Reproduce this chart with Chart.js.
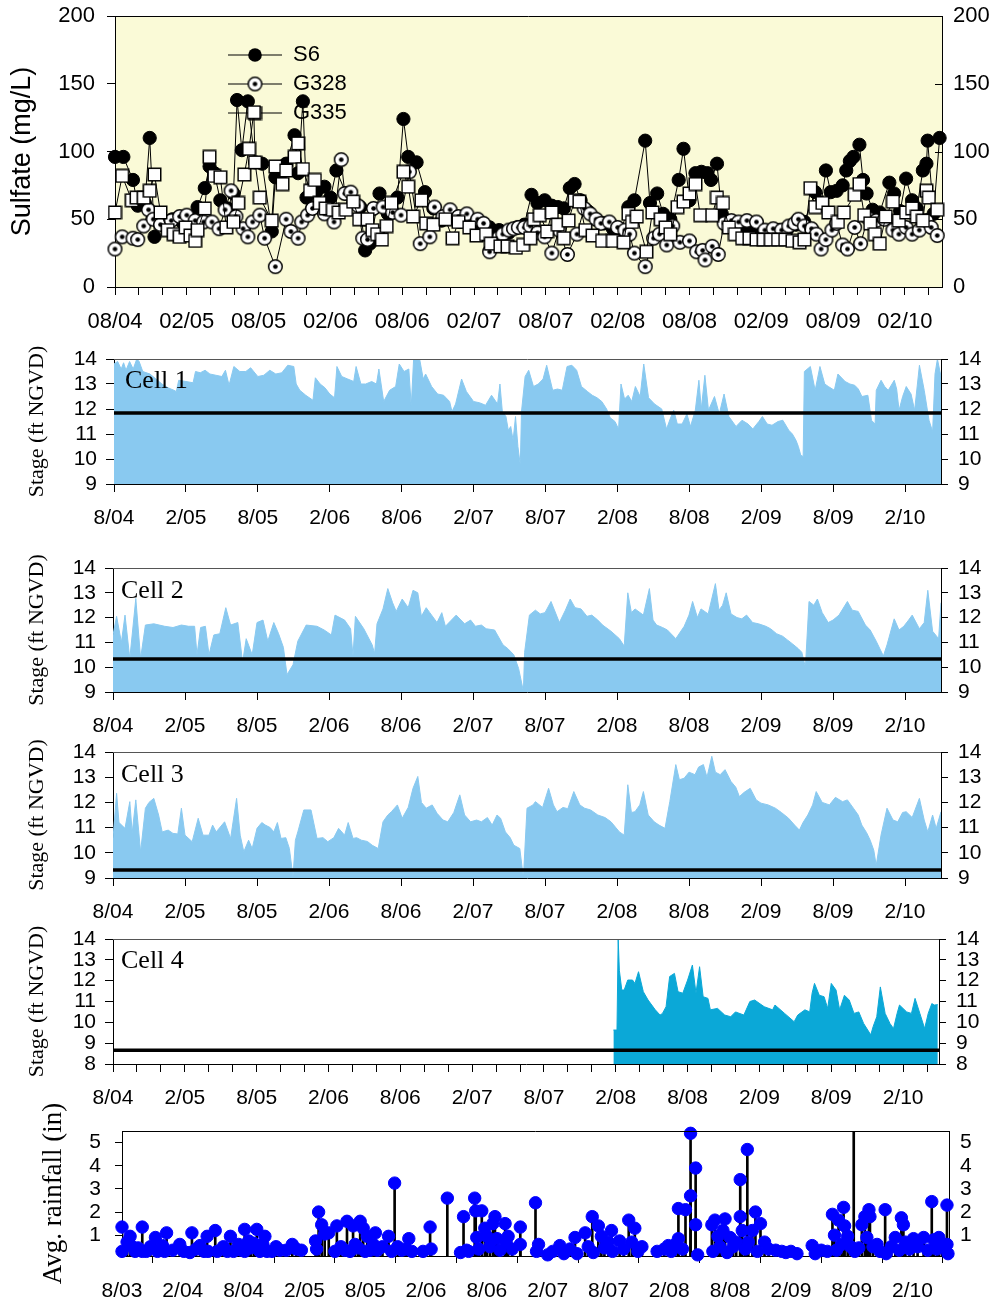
<!DOCTYPE html>
<html>
<head>
<meta charset="utf-8">
<script src="https://cdn.jsdelivr.net/npm/chart.js@4.4.1/dist/chart.umd.min.js"></script>
<style>
  body { margin: 0; background: #fff; }
  #page { position: relative; width: 995px; height: 1304px; overflow: hidden; }
  canvas { position: absolute; left: 0; }
</style>
</head>
<body>
<div id="page">
  <canvas id="sulfateChart" width="995" height="340" style="top:0px"></canvas>
  <canvas id="cell1Chart" width="995" height="200" style="top:340px"></canvas>
  <canvas id="cell2Chart" width="995" height="195" style="top:545px"></canvas>
  <canvas id="cell3Chart" width="995" height="195" style="top:730px"></canvas>
  <canvas id="cell4Chart" width="995" height="195" style="top:915px"></canvas>
  <canvas id="rainChart" width="995" height="224" style="top:1080px"></canvas>
</div>
<script>
// x values are months counted from Aug 2004 (rainfall: from Aug 2003)

// tick labels
const sulfateDates = ['08/04', '02/05', '08/05', '02/06', '08/06', '02/07', '08/07', '02/08', '08/08', '02/09', '08/09', '02/10'];
const stageDates = ['8/04', '2/05', '8/05', '2/06', '8/06', '2/07', '8/07', '2/08', '8/08', '2/09', '8/09', '2/10'];
const rainDates = ['8/03', '2/04', '8/04', '2/05', '8/05', '2/06', '8/06', '2/07', '8/07', '2/08', '8/08', '2/09', '8/09', '2/10'];
const sulfateTicks = [0, 50, 100, 150, 200];
const stageTicks = [9, 10, 11, 12, 13, 14];
const cell4Ticks = [8, 9, 10, 11, 12, 13, 14];
const rainTicks = [1, 2, 3, 4, 5];

// sulfate (mg/L)
const s6Months = [0.0, 0.7, 1.5, 1.9, 2.5, 2.9, 3.3, 4.0, 4.8, 5.6, 6.3, 6.9, 7.5, 7.9, 8.3, 8.8, 9.4, 9.9, 10.2, 10.6, 11.1, 11.7, 12.3, 13.1, 13.4, 13.9, 14.3, 15.0, 15.3, 15.7, 16.0, 16.8, 17.5, 18.0, 18.5, 19.3, 19.9, 20.5, 20.9, 21.3, 22.1, 22.8, 23.6, 24.1, 24.5, 25.2, 25.9, 26.6, 27.3, 28.0, 28.8, 29.6, 30.4, 31.3, 32.1, 32.9, 33.6, 34.2, 34.8, 35.3, 35.9, 36.5, 37.0, 37.5, 38.0, 38.4, 38.9, 39.5, 40.2, 40.9, 41.6, 42.3, 42.9, 43.4, 44.3, 44.7, 45.3, 45.8, 46.4, 47.1, 47.5, 48.0, 48.5, 49.0, 49.5, 49.8, 50.3, 50.7, 51.3, 52.0, 52.7, 53.4, 54.1, 54.8, 55.5, 56.2, 56.9, 57.6, 58.5, 59.0, 59.4, 59.8, 60.3, 60.8, 61.1, 61.4, 61.7, 62.2, 62.5, 62.8, 63.3, 63.9, 64.7, 65.1, 65.6, 66.1, 66.6, 67.0, 67.5, 67.8, 67.9, 68.4, 68.9];
const s6Sulfate = [96, 96, 79, 60, 62, 110, 37, 47, 50, 48, 52, 59, 73, 89, 84, 64, 58, 69, 138, 101, 137, 92, 91, 41, 81, 84, 91, 112, 84, 137, 66, 70, 74, 66, 86, 69, 62, 59, 27, 32, 69, 54, 66, 124, 96, 92, 70, 58, 49, 52, 48, 50, 47, 44, 42, 40, 44, 46, 68, 62, 64, 60, 59, 58, 73, 76, 64, 56, 50, 47, 43, 42, 59, 64, 108, 62, 69, 54, 50, 79, 102, 64, 84, 85, 84, 79, 91, 54, 48, 46, 45, 44, 42, 41, 42, 43, 46, 48, 70, 62, 86, 70, 71, 75, 86, 93, 96, 105, 79, 69, 57, 55, 77, 69, 56, 80, 64, 58, 86, 91, 108, 54, 110];
const g328Months = [0.0, 0.6, 1.5, 1.9, 2.4, 2.8, 3.2, 3.8, 4.7, 5.4, 6.0, 6.7, 7.4, 8.1, 8.7, 9.2, 9.7, 10.1, 10.7, 11.1, 11.5, 12.1, 12.5, 13.4, 14.3, 14.7, 15.3, 15.6, 16.1, 16.5, 17.5, 18.3, 18.9, 19.2, 19.7, 20.3, 20.7, 21.1, 21.6, 22.4, 23.2, 23.9, 24.6, 25.5, 26.3, 26.7, 27.4, 28.0, 28.7, 29.4, 30.3, 30.8, 31.3, 32.0, 32.4, 32.9, 33.3, 33.7, 34.2, 34.7, 35.3, 35.9, 36.5, 37.1, 37.8, 38.6, 39.2, 39.7, 40.2, 40.6, 41.3, 42.0, 42.6, 43.0, 43.4, 44.3, 45.0, 45.5, 46.1, 46.6, 47.2, 48.0, 48.6, 49.1, 49.3, 49.9, 50.4, 50.9, 51.5, 52.1, 52.8, 53.6, 54.3, 55.0, 55.7, 56.3, 56.8, 57.1, 57.6, 58.2, 58.6, 59.0, 59.4, 59.9, 60.3, 60.8, 61.2, 61.8, 62.3, 62.9, 63.6, 64.3, 65.0, 65.5, 66.1, 66.6, 67.2, 67.8, 68.2, 68.7];
const g328Sulfate = [28, 37, 36, 35, 45, 57, 50, 46, 49, 52, 53, 49, 48, 48, 43, 57, 71, 52, 43, 37, 48, 53, 36, 15, 50, 41, 36, 48, 53, 58, 54, 48, 94, 69, 70, 60, 36, 35, 58, 59, 55, 53, 85, 32, 37, 59, 52, 57, 52, 54, 50, 47, 26, 36, 39, 42, 43, 44, 44, 45, 40, 37, 25, 42, 24, 39, 58, 54, 50, 47, 48, 44, 42, 39, 25, 15, 36, 39, 31, 45, 33, 34, 26, 27, 20, 30, 24, 47, 49, 48, 49, 48, 42, 43, 42, 45, 47, 50, 45, 43, 39, 28, 35, 42, 47, 31, 28, 44, 32, 51, 49, 50, 42, 39, 44, 39, 42, 49, 44, 38];
const g335Months = [0.0, 0.6, 1.4, 1.8, 2.4, 2.9, 3.3, 3.8, 4.4, 4.9, 5.4, 5.9, 6.3, 6.7, 6.9, 7.5, 7.9, 8.3, 8.8, 9.3, 9.9, 10.3, 10.8, 11.2, 11.6, 11.7, 12.1, 13.1, 13.4, 14.0, 14.3, 15.0, 15.3, 15.7, 16.3, 16.7, 17.1, 17.6, 18.2, 18.7, 19.3, 19.9, 20.4, 21.1, 21.5, 21.9, 22.3, 22.7, 23.1, 24.1, 24.5, 24.9, 25.6, 26.0, 26.6, 27.6, 28.2, 28.7, 29.6, 30.2, 31.0, 31.4, 32.2, 32.8, 33.5, 34.1, 34.7, 35.0, 35.5, 36.1, 36.5, 37.0, 37.5, 37.9, 38.4, 38.8, 39.3, 39.9, 40.7, 41.6, 42.5, 42.9, 43.2, 43.6, 44.4, 44.9, 45.6, 46.0, 46.4, 47.0, 47.5, 48.0, 48.5, 48.9, 49.9, 50.3, 50.8, 51.3, 51.8, 52.4, 53.0, 53.6, 54.2, 54.8, 55.4, 56.0, 56.6, 57.2, 57.6, 58.1, 58.5, 59.1, 59.6, 60.4, 60.9, 61.8, 62.2, 62.6, 63.1, 63.5, 63.9, 64.4, 65.0, 65.5, 66.1, 66.6, 67.0, 67.5, 67.8, 68.0, 68.7];
const g335Sulfate = [55, 82, 64, 66, 66, 71, 83, 55, 42, 39, 37, 44, 38, 34, 42, 58, 96, 82, 81, 44, 48, 62, 83, 102, 129, 92, 66, 49, 89, 76, 86, 96, 106, 87, 71, 79, 62, 58, 57, 55, 57, 63, 50, 50, 42, 39, 35, 45, 62, 85, 74, 52, 64, 47, 46, 50, 36, 48, 44, 38, 39, 32, 30, 30, 29, 31, 36, 50, 53, 41, 55, 46, 36, 49, 64, 63, 42, 38, 34, 34, 33, 54, 48, 52, 26, 55, 50, 44, 39, 59, 63, 69, 76, 53, 53, 66, 62, 44, 39, 36, 36, 35, 35, 35, 35, 35, 34, 33, 35, 73, 59, 62, 55, 48, 55, 68, 76, 53, 47, 39, 32, 52, 63, 49, 55, 58, 52, 49, 71, 66, 57];

// stage (ft NGVD)
const cell1Months = [0.0, 0.3, 0.6, 0.8, 1.0, 1.3, 1.6, 1.9, 2.1, 2.4, 3.0, 3.5, 4.0, 4.5, 5.0, 5.2, 5.4, 6.0, 6.6, 6.8, 7.2, 7.6, 8.0, 8.5, 9.0, 9.3, 9.6, 10.0, 10.5, 11.0, 11.4, 12.0, 12.5, 13.0, 13.5, 14.0, 14.5, 15.0, 15.2, 15.5, 16.0, 16.6, 16.8, 17.2, 17.6, 18.0, 18.4, 18.6, 19.0, 19.5, 20.0, 20.2, 20.6, 21.0, 21.5, 21.9, 22.1, 22.5, 23.0, 23.5, 23.8, 24.2, 24.6, 24.8, 25.0, 25.5, 25.8, 26.0, 26.5, 27.0, 27.5, 28.0, 28.2, 28.5, 29.0, 29.4, 30.0, 30.5, 31.0, 31.5, 32.0, 32.2, 32.4, 32.7, 32.9, 33.1, 33.3, 33.5, 33.7, 33.9, 34.0, 34.3, 34.6, 35.0, 35.4, 35.8, 36.1, 36.6, 37.0, 37.4, 37.8, 38.2, 38.6, 39.0, 39.5, 39.9, 40.3, 40.7, 41.1, 41.4, 41.8, 42.1, 42.3, 42.6, 42.9, 43.2, 43.5, 43.9, 44.2, 44.6, 45.1, 45.7, 46.1, 46.4, 46.7, 47.0, 47.4, 47.8, 48.1, 48.5, 48.8, 49.0, 49.3, 49.6, 50.1, 50.5, 50.9, 51.3, 51.9, 52.4, 52.9, 53.3, 53.8, 54.1, 54.5, 54.9, 55.4, 55.8, 56.3, 56.6, 56.9, 57.1, 57.3, 57.5, 57.6, 58.1, 58.5, 58.9, 59.3, 59.6, 60.1, 60.4, 61.0, 61.4, 61.8, 62.1, 62.4, 62.9, 63.2, 63.5, 63.6, 64.0, 64.3, 64.6, 65.1, 65.3, 65.5, 65.8, 66.1, 66.5, 66.8, 67.2, 67.6, 68.0, 68.3, 68.5, 68.7, 69.0];
const cell1Stage = [13.8, 13.9, 13.6, 13.85, 13.55, 13.9, 13.6, 14.0, 13.9, 13.5, 13.4, 13.2, 13.0, 12.85, 12.75, 12.7, 13.15, 13.1, 13.05, 13.5, 13.45, 13.55, 13.4, 13.35, 13.3, 13.55, 12.95, 13.7, 13.5, 13.5, 13.65, 13.3, 13.35, 13.55, 13.4, 13.45, 13.75, 13.7, 13.0, 12.75, 12.55, 12.35, 13.25, 13.0, 12.85, 12.6, 12.45, 13.7, 13.3, 13.2, 13.1, 13.7, 13.0, 13.0, 13.1, 13.0, 13.6, 12.3, 12.75, 12.9, 13.8, 13.5, 13.6, 12.1, 14.0, 14.0, 13.2, 13.4, 12.9, 12.6, 12.55, 12.3, 11.9, 12.2, 13.2, 12.7, 12.3, 12.25, 12.15, 12.55, 12.2, 13.0, 11.9, 11.7, 11.15, 11.3, 10.75, 11.7, 10.5, 9.75, 11.9, 13.3, 13.55, 12.9, 13.0, 13.2, 13.75, 12.75, 12.8, 12.75, 13.7, 13.75, 13.55, 12.9, 12.7, 12.55, 12.45, 12.3, 12.0, 11.65, 11.5, 11.2, 13.0, 12.4, 12.55, 12.3, 12.9, 12.5, 13.8, 12.45, 12.2, 12.0, 11.2, 11.6, 11.95, 11.4, 11.4, 11.8, 11.3, 11.95, 13.15, 12.0, 13.35, 11.95, 12.5, 11.8, 12.6, 11.7, 11.3, 11.55, 11.4, 11.2, 11.5, 11.7, 11.4, 11.35, 11.5, 11.55, 11.15, 11.0, 10.75, 10.5, 10.15, 10.1, 13.5, 13.7, 12.75, 13.7, 13.0, 12.9, 12.75, 13.4, 13.1, 13.0, 12.95, 12.8, 12.5, 12.55, 11.55, 11.4, 12.75, 13.15, 12.9, 12.75, 13.15, 12.8, 11.95, 12.5, 12.9, 12.6, 11.95, 13.75, 12.75, 11.55, 11.1, 13.4, 14.0, 13.3];
const cell2Months = [0.0, 0.3, 0.7, 1.0, 1.4, 1.9, 2.3, 2.7, 3.4, 4.3, 5.0, 5.7, 6.3, 6.8, 7.0, 7.3, 7.7, 8.0, 8.4, 8.9, 9.4, 9.8, 10.4, 10.8, 11.1, 11.6, 12.0, 12.5, 12.9, 13.4, 13.8, 14.2, 14.5, 15.0, 15.4, 16.1, 17.0, 17.6, 18.2, 18.5, 19.3, 19.8, 20.0, 20.2, 20.9, 21.6, 21.8, 22.0, 22.5, 22.9, 23.3, 23.6, 24.1, 24.6, 25.0, 25.4, 25.7, 26.1, 26.4, 27.0, 27.4, 27.7, 28.2, 28.6, 29.3, 29.8, 30.2, 30.7, 31.1, 31.8, 32.5, 32.9, 33.4, 33.8, 34.2, 34.3, 34.7, 35.2, 35.6, 36.0, 36.5, 37.2, 37.7, 38.1, 38.5, 39.0, 39.5, 39.9, 40.4, 40.8, 41.5, 42.2, 42.6, 42.9, 43.2, 43.5, 44.2, 44.7, 45.0, 45.3, 45.8, 46.2, 46.9, 47.6, 48.0, 48.3, 48.7, 49.0, 49.6, 50.2, 50.5, 50.8, 51.1, 51.5, 52.0, 52.4, 52.8, 53.3, 53.8, 54.4, 54.8, 55.3, 55.8, 56.2, 56.6, 57.1, 57.4, 57.7, 58.0, 58.4, 58.7, 59.1, 59.6, 60.0, 60.5, 61.2, 61.6, 62.1, 62.7, 63.1, 63.6, 64.2, 64.5, 65.1, 65.5, 65.9, 66.3, 66.6, 67.2, 67.6, 67.9, 68.3, 68.8, 69.0];
const cell2Stage = [11.3, 12.05, 11.0, 12.1, 10.35, 12.77, 10.35, 11.7, 11.75, 11.65, 11.6, 11.7, 11.65, 11.65, 10.5, 11.6, 11.65, 10.5, 11.3, 11.35, 12.4, 11.7, 11.8, 10.2, 11.15, 10.5, 11.8, 11.9, 11.05, 11.8, 11.35, 10.8, 9.7, 10.1, 11.05, 11.7, 11.65, 11.5, 11.3, 12.1, 11.9, 11.55, 10.45, 12.05, 11.55, 10.9, 10.55, 11.75, 12.35, 13.17, 12.6, 12.25, 12.75, 12.4, 13.1, 13.0, 12.05, 12.4, 12.2, 11.8, 12.2, 11.65, 11.9, 12.1, 11.75, 11.9, 11.65, 11.7, 11.55, 11.5, 10.9, 10.75, 10.5, 9.95, 9.03, 10.6, 12.1, 12.3, 12.15, 12.2, 12.65, 11.8, 12.3, 12.75, 12.4, 12.35, 12.05, 12.1, 11.9, 11.7, 11.45, 11.15, 10.85, 13.0, 12.2, 12.35, 12.1, 13.17, 11.9, 11.7, 11.6, 11.5, 11.15, 11.65, 12.1, 12.65, 12.0, 12.35, 12.15, 13.37, 12.3, 12.5, 13.0, 12.15, 12.0, 11.95, 12.1, 11.8, 11.75, 11.65, 11.55, 11.35, 11.25, 11.1, 10.95, 10.75, 10.6, 10.0, 12.65, 12.5, 12.75, 12.2, 11.8, 11.9, 12.1, 12.65, 12.3, 12.25, 11.7, 11.5, 11.05, 10.45, 10.9, 11.95, 11.5, 11.65, 11.9, 12.1, 11.55, 11.8, 13.1, 11.45, 11.15, 12.6];
const cell3Months = [0.0, 0.3, 0.5, 1.0, 1.4, 1.6, 1.9, 2.3, 2.7, 3.0, 3.4, 3.8, 4.1, 4.6, 5.0, 5.4, 5.7, 6.0, 6.6, 7.1, 7.5, 8.0, 8.3, 8.6, 9.3, 9.8, 10.3, 10.6, 10.9, 11.3, 11.6, 12.0, 12.4, 12.7, 13.1, 13.4, 13.7, 14.0, 14.4, 14.7, 15.0, 15.2, 15.4, 15.9, 16.5, 17.0, 17.5, 17.9, 18.4, 18.8, 19.3, 19.6, 20.0, 20.3, 20.7, 21.2, 21.6, 22.1, 22.5, 22.9, 23.2, 23.7, 24.1, 24.6, 25.0, 25.4, 25.7, 26.1, 26.6, 27.0, 27.5, 27.9, 28.4, 28.9, 29.3, 29.8, 30.3, 30.7, 31.2, 31.6, 32.0, 32.3, 32.7, 33.1, 33.4, 33.9, 34.2, 34.5, 35.0, 35.2, 35.8, 36.3, 36.7, 37.0, 37.5, 37.9, 38.4, 38.9, 39.3, 39.8, 40.4, 41.0, 41.5, 41.9, 42.2, 42.6, 42.9, 43.2, 43.5, 43.9, 44.2, 44.6, 45.1, 45.5, 46.0, 46.4, 46.9, 47.2, 47.6, 48.0, 48.5, 48.8, 49.2, 49.5, 49.9, 50.2, 50.6, 51.0, 51.5, 51.9, 52.2, 52.6, 53.1, 53.6, 54.0, 54.6, 55.2, 55.7, 56.3, 56.8, 57.2, 57.5, 57.9, 58.3, 58.6, 59.1, 59.7, 60.2, 60.8, 61.2, 61.7, 62.1, 62.4, 62.8, 63.1, 63.4, 63.6, 64.0, 64.5, 65.0, 65.4, 65.8, 66.1, 66.6, 67.2, 67.6, 67.9, 68.3, 68.6, 69.0];
const cell3Stage = [10.57, 12.36, 11.2, 10.97, 12.03, 10.8, 12.1, 10.04, 11.77, 12.0, 12.16, 11.5, 10.83, 10.9, 10.77, 10.75, 11.77, 10.7, 10.44, 11.37, 10.7, 10.7, 11.1, 10.83, 11.23, 10.57, 12.16, 10.7, 10.04, 10.5, 10.17, 10.97, 11.2, 11.1, 11.0, 10.83, 11.2, 10.57, 10.6, 10.17, 9.04, 10.5, 10.83, 11.7, 11.7, 10.57, 10.6, 10.44, 10.6, 10.97, 10.7, 11.2, 10.57, 10.6, 10.5, 10.45, 10.3, 10.17, 11.23, 11.5, 11.63, 11.9, 11.37, 11.8, 12.56, 13.03, 12.0, 11.77, 11.9, 11.57, 11.3, 11.23, 11.6, 12.3, 11.5, 11.23, 11.3, 11.23, 11.4, 11.1, 11.5, 11.37, 10.83, 10.6, 10.3, 10.17, 9.0, 11.77, 11.9, 12.03, 11.8, 12.56, 11.9, 11.63, 11.8, 11.75, 12.43, 11.9, 11.77, 11.7, 11.5, 11.4, 11.23, 11.0, 10.83, 10.7, 12.7, 11.6, 11.63, 11.9, 12.43, 11.5, 11.23, 11.1, 10.97, 12.03, 13.5, 12.9, 12.96, 13.2, 13.1, 13.4, 13.5, 13.0, 13.83, 13.2, 13.1, 13.3, 12.83, 12.6, 12.23, 12.4, 12.56, 12.1, 11.97, 11.9, 11.77, 11.6, 11.37, 11.1, 10.9, 11.2, 11.5, 11.9, 12.43, 12.0, 11.9, 12.2, 12.03, 12.1, 11.77, 11.5, 11.1, 10.8, 10.5, 10.1, 9.5, 10.7, 11.77, 11.3, 11.23, 11.6, 11.63, 11.4, 12.16, 11.3, 10.83, 11.5, 10.97, 11.63];
const cell4Months = [41.8, 42.1, 42.2, 42.3, 42.5, 42.7, 43.0, 43.4, 43.6, 43.9, 44.3, 44.7, 45.3, 45.7, 45.9, 46.2, 46.5, 46.9, 47.2, 47.6, 48.0, 48.4, 48.7, 49.0, 49.3, 49.7, 49.9, 50.5, 51.1, 51.6, 52.0, 52.7, 53.2, 53.6, 54.4, 55.1, 55.3, 56.1, 56.9, 57.2, 57.8, 58.2, 58.4, 58.6, 59.0, 59.4, 59.7, 60.0, 60.4, 60.7, 61.1, 61.5, 61.9, 62.3, 62.7, 63.3, 63.5, 63.8, 64.1, 64.5, 64.9, 65.2, 65.5, 65.7, 66.3, 66.7, 67.0, 67.4, 67.8, 68.1, 68.4, 68.6, 68.9];
const cell4Stage = [9.63, 9.63, 14.0, 12.5, 11.55, 11.55, 12.03, 12.03, 11.87, 12.43, 11.47, 11.07, 10.6, 10.35, 10.43, 10.75, 12.2, 12.35, 11.47, 11.4, 12.03, 12.75, 11.4, 12.67, 11.23, 11.15, 10.6, 10.67, 10.35, 10.27, 10.5, 10.35, 11.0, 11.07, 10.75, 10.6, 10.83, 10.43, 10.03, 10.35, 10.6, 10.5, 11.4, 11.87, 11.3, 11.23, 10.67, 11.87, 11.55, 10.6, 11.3, 11.07, 10.43, 10.5, 9.95, 9.4, 9.8, 10.27, 11.7, 10.43, 9.95, 9.7, 10.43, 10.83, 10.5, 10.43, 11.15, 10.43, 9.7, 10.43, 10.9, 10.83, 10.85];
const cellLevels = [11.84, 10.33, 9.32, 8.66];

// average rainfall (in)
const rainMonths = [0.0, 0.0, 0.5, 0.8, 0.9, 1.3, 1.6, 2.0, 2.0, 2.4, 2.8, 3.3, 3.5, 4.0, 4.2, 4.4, 5.0, 5.7, 6.1, 6.7, 6.9, 7.3, 7.7, 8.1, 8.4, 8.5, 9.2, 9.4, 10.0, 10.4, 10.7, 11.0, 11.5, 11.8, 12.1, 12.1, 12.5, 12.7, 13.0, 13.3, 13.6, 13.9, 14.1, 14.3, 14.8, 15.2, 15.6, 16.2, 16.8, 17.2, 17.7, 19.1, 19.2, 19.4, 19.7, 20.0, 20.4, 21.0, 21.2, 21.6, 22.0, 22.2, 22.5, 22.8, 23.0, 23.3, 23.5, 23.8, 24.0, 24.2, 24.5, 24.8, 25.0, 25.2, 25.7, 26.3, 26.6, 26.9, 27.2, 27.6, 28.0, 28.3, 28.6, 29.7, 30.4, 30.5, 32.1, 33.4, 33.7, 34.0, 34.2, 34.8, 34.9, 35.0, 35.2, 35.5, 35.8, 36.0, 36.3, 36.6, 36.8, 37.0, 37.3, 37.8, 37.9, 38.1, 38.5, 39.3, 39.3, 40.8, 40.9, 41.1, 42.0, 42.5, 43.2, 43.6, 44.2, 44.7, 44.9, 45.7, 46.0, 46.4, 46.5, 47.0, 47.3, 47.6, 48.0, 48.3, 48.4, 49.1, 49.5, 50.0, 50.3, 50.6, 50.9, 51.3, 52.8, 53.5, 53.9, 54.2, 54.6, 54.9, 54.9, 55.3, 55.6, 56.1, 56.1, 56.6, 56.6, 56.8, 58.2, 58.3, 58.5, 58.8, 59.0, 59.3, 59.5, 59.7, 60.0, 60.3, 60.6, 61.0, 61.0, 61.2, 61.5, 61.7, 61.8, 62.2, 62.5, 62.7, 63.0, 63.4, 63.8, 64.5, 65.1, 65.5, 66.0, 66.6, 68.1, 68.4, 69.0, 69.6, 70.1, 70.3, 70.5, 70.7, 71.0, 71.2, 71.3, 71.6, 71.9, 72.2, 72.3, 72.7, 73.0, 73.3, 73.5, 73.7, 73.8, 74.1, 74.5, 74.8, 75.3, 75.4, 75.9, 76.3, 76.7, 76.9, 77.1, 77.3, 77.7, 78.1, 78.5, 79.1, 79.5, 79.9, 80.1, 80.4, 80.6, 80.9, 81.4, 81.4, 81.5];
const rainInches = [1.35, 0.3, 0.7, 0.95, 0.55, 0.3, 0.45, 1.35, 0.3, 0.3, 0.5, 0.9, 0.3, 0.55, 0.3, 1.1, 0.35, 0.6, 0.3, 0.25, 1.1, 0.4, 0.55, 0.3, 0.95, 0.3, 1.2, 0.3, 0.5, 0.3, 0.95, 0.3, 0.6, 0.35, 1.25, 0.3, 0.75, 0.45, 0.65, 1.25, 0.3, 0.6, 0.95, 0.3, 0.3, 0.5, 0.35, 0.35, 0.6, 0.4, 0.35, 0.75, 0.4, 2.0, 1.45, 1.05, 1.1, 0.3, 1.4, 0.5, 0.35, 1.6, 0.3, 1.4, 0.6, 0.45, 1.6, 1.3, 0.3, 0.95, 0.35, 0.6, 1.1, 0.35, 0.5, 0.95, 0.3, 3.25, 0.5, 0.35, 0.4, 0.85, 0.3, 0.3, 1.35, 0.4, 2.6, 0.25, 1.8, 0.35, 0.3, 2.6, 2.05, 0.9, 0.4, 2.05, 1.3, 0.95, 0.5, 1.5, 1.8, 0.85, 0.35, 1.5, 0.7, 0.95, 0.4, 1.35, 0.6, 2.4, 0.3, 0.6, 0.15, 0.3, 0.55, 0.2, 0.4, 0.9, 0.2, 1.1, 0.5, 1.8, 0.25, 1.4, 0.95, 0.45, 0.7, 1.2, 0.3, 0.75, 0.4, 1.65, 0.7, 1.3, 0.3, 0.5, 0.3, 0.4, 0.55, 0.3, 0.6, 0.85, 2.15, 0.4, 2.1, 5.4, 2.7, 3.9, 1.45, 0.15, 1.45, 0.3, 1.65, 0.95, 0.5, 1.2, 1.7, 0.25, 0.9, 0.5, 0.7, 3.4, 1.8, 1.2, 0.4, 4.7, 0.7, 1.2, 2.0, 0.3, 1.5, 0.7, 0.4, 0.35, 0.3, 0.25, 0.3, 0.2, 0.55, 0.2, 0.35, 0.3, 1.9, 1.0, 0.35, 1.65, 0.6, 2.2, 1.4, 0.95, 0.5, 6.2, 0.3, 0.45, 1.45, 1.8, 0.9, 2.1, 1.8, 0.5, 0.6, 0.3, 2.1, 0.2, 0.5, 0.9, 0.35, 1.75, 1.45, 0.7, 0.4, 0.85, 0.5, 0.9, 0.35, 2.45, 0.8, 0.4, 0.9, 0.5, 2.3, 0.6, 0.2];

const sulfateMax = 69.1;
const stageMax = 69;
const rainMax = 81.6;

Chart.defaults.font.family = "'Liberation Sans', Arial, sans-serif";
Chart.defaults.font.size = 21;
Chart.defaults.color = '#000';

function pts(xs, ys) {
    return xs.map((x, i) => ({ x: x, y: ys[i] }));
}

// fixed axis sizes so every plot box lands where the figure has it
function fixWidth(w) {
    return function(scale) {
        scale.width = w;
        scale.paddingTop = 0;
        scale.paddingBottom = 0;
    };
}

function fixHeight(h) {
    return function(scale) {
        scale.height = h;
        scale.paddingLeft = 0;
        scale.paddingRight = 0;
    };
}

function setTicks(values) {
    return function(scale) { scale.ticks = values.map(v => ({ value: v })); };
}

// month positions of x ticks, every `step` months
function monthTicks(max, step) {
    const out = [];
    for (let m = 0; m <= max; m += step) out.push(m);
    return out;
}

function dateLabel(labels) {
    return function(value) {
        return value % 6 === 0 ? labels[value / 6] : '';
    };
}

// marker images for the open symbols
function dotCircle() {
    const c = document.createElement('canvas');
    c.width = 17; c.height = 17;
    const g = c.getContext('2d');
    g.beginPath();
    g.arc(8.5, 8.5, 6.8, 0, 2 * Math.PI);
    g.fillStyle = '#fff';
    g.fill();
    g.lineWidth = 1.5;
    g.strokeStyle = '#000';
    g.stroke();
    g.beginPath();
    g.arc(8.5, 8.5, 2.3, 0, 2 * Math.PI);
    g.fillStyle = '#000';
    g.fill();
    return c;
}

function openSquare() {
    const c = document.createElement('canvas');
    c.width = 15; c.height = 15;
    const g = c.getContext('2d');
    g.fillStyle = '#fff';
    g.fillRect(1, 1, 13, 13);
    g.lineWidth = 1.5;
    g.strokeStyle = '#000';
    g.strokeRect(1.25, 1.25, 12.5, 12.5);
    return c;
}

// plot background, top frame line, inner ticks, panel caption
const framePlugin = {
    id: 'frame',
    beforeDraw(chart, args, opts) {
        if (!opts.background) return;
        const a = chart.chartArea, ctx = chart.ctx;
        ctx.save();
        ctx.fillStyle = opts.background;
        ctx.fillRect(a.left, a.top, a.right - a.left, a.bottom - a.top);
        ctx.restore();
    },
    afterDraw(chart, args, opts) {
        const a = chart.chartArea, ctx = chart.ctx;
        ctx.save();
        ctx.strokeStyle = opts.color || '#000';
        ctx.lineWidth = 1;
        ctx.beginPath();
        ctx.moveTo(a.left, Math.round(a.top) + 0.5);
        ctx.lineTo(a.right, Math.round(a.top) + 0.5);
        ctx.stroke();
        if (opts.innerTicks) {
            const s = chart.scales.yRight;
            ctx.strokeStyle = '#000';
            opts.innerTicks.forEach(v => {
                const y = Math.round(s.getPixelForValue(v)) + 0.5;
                ctx.beginPath();
                ctx.moveTo(a.right - 7, y);
                ctx.lineTo(a.right, y);
                ctx.stroke();
            });
        }
        if (opts.label) {
            ctx.fillStyle = '#000';
            ctx.font = "26px 'Liberation Serif', 'Times New Roman', serif";
            ctx.textBaseline = 'alphabetic';
            ctx.fillText(opts.label, a.left + opts.dx, a.top + opts.dy);
        }
        ctx.restore();
    }
};

// legend drawn inside the plot, under the data
const legendPlugin = {
    id: 'inlineLegend',
    beforeDatasetsDraw(chart, args, opts) {
        if (!opts.items) return;
        const ctx = chart.ctx;
        ctx.save();
        opts.items.forEach((it, i) => {
            const y = opts.y + i * opts.gap;
            const mx = opts.x + opts.len / 2;
            ctx.strokeStyle = '#000';
            ctx.lineWidth = 1;
            ctx.beginPath();
            ctx.moveTo(opts.x, y);
            ctx.lineTo(opts.x + opts.len, y);
            ctx.stroke();
            if (it.marker === 'circle') {
                ctx.beginPath();
                ctx.arc(mx, y, 6.8, 0, 2 * Math.PI);
                ctx.fillStyle = '#000';
                ctx.fill();
            } else {
                ctx.drawImage(it.marker, mx - it.marker.width / 2, y - it.marker.height / 2);
            }
            ctx.fillStyle = '#000';
            ctx.font = "22px 'Liberation Sans', Arial, sans-serif";
            ctx.textBaseline = 'middle';
            ctx.fillText(it.text, opts.x + opts.len + 11, y);
        });
        ctx.restore();
    }
};

const g328Marker = dotCircle();
const g335Marker = openSquare();

function renderSulfateChart() {
    const ctx = document.getElementById('sulfateChart');
    new Chart(ctx, {
        type: 'line',
        data: {
            datasets: [{
                label: 'S6',
                data: pts(s6Months, s6Sulfate),
                borderColor: '#000',
                borderWidth: 1,
                pointStyle: 'circle',
                pointRadius: 6.6,
                pointBackgroundColor: '#000',
                pointBorderColor: '#000',
                clip: false,
                order: 3
            }, {
                label: 'G328',
                data: pts(g328Months, g328Sulfate),
                borderColor: '#000',
                borderWidth: 1,
                pointStyle: g328Marker,
                pointRadius: 7,
                clip: false,
                order: 2
            }, {
                label: 'G335',
                data: pts(g335Months, g335Sulfate),
                borderColor: '#000',
                borderWidth: 1,
                pointStyle: g335Marker,
                pointRadius: 7,
                clip: false,
                order: 1
            }]
        },
        options: {
            responsive: false,
            animation: false,
            layout: { padding: { top: 16, left: 0, right: 0, bottom: 0 } },
            plugins: {
                legend: { display: false },
                tooltip: { enabled: false },
                frame: { background: '#fafad7', color: '#000', innerTicks: sulfateTicks },
                inlineLegend: {
                    x: 228, y: 55, gap: 29, len: 54,
                    items: [
                        { text: 'S6', marker: 'circle' },
                        { text: 'G328', marker: g328Marker },
                        { text: 'G335', marker: g335Marker }
                    ]
                }
            },
            scales: {
                x: {
                    type: 'linear',
                    min: 0,
                    max: sulfateMax,
                    afterFit: fixHeight(53),
                    afterBuildTicks: setTicks(monthTicks(sulfateMax, 2)),
                    ticks: { callback: dateLabel(sulfateDates), autoSkip: false, maxRotation: 0, font: { size: 22 }, padding: 14 },
                    grid: { drawOnChartArea: false, tickLength: 8, color: '#000' },
                    border: { color: '#000' }
                },
                y: {
                    min: 0,
                    max: 200,
                    afterFit: fixWidth(115),
                    afterBuildTicks: setTicks(sulfateTicks),
                    ticks: { autoSkip: false, font: { size: 22 }, padding: 12 },
                    grid: { drawOnChartArea: false, tickLength: 8, color: '#000' },
                    border: { color: '#000' },
                    title: { display: true, text: 'Sulfate (mg/L)', font: { size: 27 }, padding: { top: 6, bottom: 0 } }
                },
                yRight: {
                    position: 'right',
                    min: 0,
                    max: 200,
                    afterFit: fixWidth(53),
                    afterBuildTicks: setTicks(sulfateTicks),
                    ticks: { autoSkip: false, font: { size: 22 }, padding: 11 },
                    grid: { drawOnChartArea: false, drawTicks: false },
                    border: { color: '#000' }
                }
            }
        },
        plugins: [framePlugin, legendPlugin]
    });
}

function renderStageChart(id, cfg) {
    const ctx = document.getElementById(id);
    new Chart(ctx, {
        type: 'line',
        data: {
            datasets: [{
                data: pts(cfg.months, cfg.stage),
                fill: 'start',
                backgroundColor: cfg.color,
                borderColor: cfg.color,
                borderWidth: 1,
                pointRadius: 0,
                tension: 0,
                order: 2
            }, {
                data: [{ x: 0, y: cfg.level }, { x: stageMax, y: cfg.level }],
                fill: false,
                borderColor: '#000',
                borderWidth: 3.5,
                pointRadius: 0,
                order: 1
            }]
        },
        options: {
            responsive: false,
            animation: false,
            layout: { padding: { top: cfg.padTop, left: 0, right: 0, bottom: 0 } },
            plugins: {
                legend: { display: false },
                tooltip: { enabled: false },
                frame: { color: '#555', label: cfg.label, dx: cfg.dx, dy: cfg.dy }
            },
            scales: {
                x: {
                    type: 'linear',
                    min: 0,
                    max: stageMax,
                    afterFit: fixHeight(cfg.xHeight),
                    afterBuildTicks: setTicks(monthTicks(stageMax, cfg.tickStep)),
                    ticks: { callback: dateLabel(stageDates), autoSkip: false, maxRotation: 0, font: { size: 21 }, padding: 14 },
                    grid: { drawOnChartArea: false, tickLength: 8, color: '#000' },
                    border: { color: '#000' }
                },
                y: {
                    min: cfg.yTicks[0],
                    max: 14,
                    afterFit: fixWidth(cfg.left),
                    afterBuildTicks: setTicks(cfg.yTicks),
                    ticks: { autoSkip: false, font: { size: 21 }, padding: 9 },
                    grid: { drawOnChartArea: false, tickLength: 8, color: '#000' },
                    border: { color: '#000' },
                    title: {
                        display: true,
                        text: 'Stage (ft NGVD)',
                        font: { family: "'Liberation Serif', 'Times New Roman', serif", size: 22 },
                        padding: { top: 24, bottom: 0 }
                    }
                },
                yRight: {
                    position: 'right',
                    min: cfg.yTicks[0],
                    max: 14,
                    afterFit: fixWidth(995 - cfg.right),
                    afterBuildTicks: setTicks(cfg.yTicks),
                    ticks: { autoSkip: false, font: { size: 21 }, padding: 10 },
                    grid: { drawOnChartArea: false, tickLength: 7, color: '#000' },
                    border: { color: '#000' }
                }
            }
        },
        plugins: [framePlugin]
    });
}

function renderRainChart() {
    const ctx = document.getElementById('rainChart');
    const data = pts(rainMonths, rainInches);
    new Chart(ctx, {
        type: 'scatter',
        data: {
            datasets: [{
                type: 'scatter',
                data: data,
                pointRadius: 6.2,
                backgroundColor: '#0000ff',
                borderColor: '#0000ff',
                clip: { left: 10, top: 5, right: 10, bottom: 10 },
                order: 1
            }, {
                type: 'bar',
                data: data,
                backgroundColor: '#000',
                barThickness: 2,
                order: 2
            }]
        },
        options: {
            responsive: false,
            animation: false,
            layout: { padding: { top: 51, left: 0, right: 0, bottom: 0 } },
            plugins: {
                legend: { display: false },
                tooltip: { enabled: false },
                frame: { color: '#000' }
            },
            scales: {
                x: {
                    type: 'linear',
                    offset: false,
                    min: 0,
                    max: rainMax,
                    afterFit: fixHeight(48),
                    afterBuildTicks: setTicks(monthTicks(rainMax, 6)),
                    ticks: { callback: dateLabel(rainDates), autoSkip: false, maxRotation: 0, font: { size: 21 }, padding: 16 },
                    grid: { drawOnChartArea: false, tickLength: 7, color: '#000' },
                    border: { color: '#000' }
                },
                y: {
                    min: 0.1,
                    max: 5.5,
                    afterFit: fixWidth(122),
                    afterBuildTicks: setTicks(rainTicks),
                    ticks: { autoSkip: false, font: { size: 21 }, padding: 14 },
                    grid: { drawOnChartArea: false, tickLength: 7, color: '#000' },
                    border: { color: '#000' },
                    title: {
                        display: true,
                        text: 'Avg. rainfall (in)',
                        font: { family: "'Liberation Serif', 'Times New Roman', serif", size: 27 },
                        padding: { top: 38, bottom: 0 }
                    }
                },
                yRight: {
                    position: 'right',
                    min: 0.1,
                    max: 5.5,
                    afterFit: fixWidth(46),
                    afterBuildTicks: setTicks(rainTicks),
                    ticks: { autoSkip: false, font: { size: 21 }, padding: 11 },
                    grid: { drawOnChartArea: false, drawTicks: false },
                    border: { color: '#000' }
                }
            }
        },
        plugins: [framePlugin]
    });
}

renderSulfateChart();
renderStageChart('cell1Chart', { months: cell1Months, stage: cell1Stage, level: cellLevels[0], color: '#89c9f0', label: 'Cell 1', dx: 11, dy: 29, padTop: 19, xHeight: 56, left: 114, right: 941, yTicks: stageTicks, tickStep: 6 });
renderStageChart('cell2Chart', { months: cell2Months, stage: cell2Stage, level: cellLevels[1], color: '#89c9f0', label: 'Cell 2', dx: 8, dy: 30, padTop: 23, xHeight: 48, left: 113, right: 941, yTicks: stageTicks, tickStep: 6 });
renderStageChart('cell3Chart', { months: cell3Months, stage: cell3Stage, level: cellLevels[2], color: '#89c9f0', label: 'Cell 3', dx: 8, dy: 30, padTop: 22, xHeight: 47, left: 113, right: 941, yTicks: stageTicks, tickStep: 6 });
renderStageChart('cell4Chart', { months: cell4Months, stage: cell4Stage, level: cellLevels[3], color: '#0ba8d7', label: 'Cell 4', dx: 8, dy: 29, padTop: 24, xHeight: 46, left: 113, right: 939, yTicks: cell4Ticks, tickStep: 2 });
renderRainChart();
</script>
</body>
</html>
